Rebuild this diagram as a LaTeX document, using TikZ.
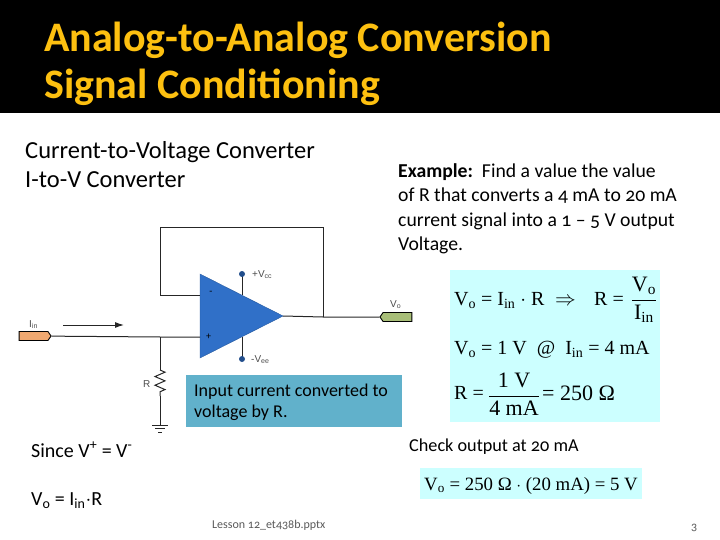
\documentclass[tikz,border=0pt]{standalone}
\usepackage{amsmath}
\usepackage{fontspec}
\usetikzlibrary{shapes.symbols,decorations.pathmorphing,arrows.meta}
\setmainfont[Numbers=OldStyle]{Carlito}
\newfontfamily\fmla{Liberation Serif}
\newfontfamily\labelfont{Liberation Sans}
\definecolor{titlegold}{HTML}{FDC010}
\definecolor{ampblue}{HTML}{3070C8}
\definecolor{notebox}{HTML}{61B1CB}
\definecolor{fmlabox}{HTML}{CCFFFF}
\definecolor{intag}{HTML}{F0A870}
\definecolor{outtag}{HTML}{A8BE78}
\def\Vo{V\textsubscript{o}}
\def\Iin{I\textsubscript{in}}
\def\fracb#1#2{$\displaystyle\frac{\hbox{\fmla #1}}{\hbox{\fmla #2}}$}
\tikzset{
    title/.style={anchor=base west, inner sep=0, text=titlegold, font=\fontsize{42}{42}\selectfont\bfseries},
    body/.style={anchor=base west, inner sep=0, font=\fontsize{24.5}{24.5}\selectfont},
    small/.style={anchor=base west, inner sep=0, font=\fontsize{19.7}{19.7}\selectfont},
    eq/.style={anchor=base west, inner sep=0, font=\fontsize{20}{20}\selectfont\fmla},
    eqmid/.style={anchor=center, inner sep=0, font=\fontsize{22}{22}\selectfont\fmla},
    pin/.style={anchor=base west, inner sep=0, text=black!70, font=\fontsize{10}{10}\selectfont\labelfont},
    tag/.style={draw=black, line width=0.9pt, signal, signal pointer angle=110, minimum height=9pt, minimum width=32pt, inner sep=0},
    wire/.style={line width=1pt, black!85}
}

\begin{document}
\begin{tikzpicture}[x=1pt, y=-1pt]
    \useasboundingbox (0, 0) rectangle (720, 540);
    \fill[black] (0, 0) rectangle (720, 113);
    \node[title] (title1) at (44, 52) {Analog-to-Analog Conversion};
    \node[title] (title2) at (44, 99) {Signal Conditioning};

    \node[body] (head1) at (25, 159) {Current-to-Voltage Converter};
    \node[body] (head2) at (25, 188) {I-to-V Converter};

    \node[small] (ex1) at (398, 178) {\textbf{Example:}\ \ Find a value the value};
    \node[small] (ex2) at (398, 202) {of R that converts a 4 mA to 20 mA};
    \node[small] (ex3) at (398, 226) {current signal into a 1 – 5 V output};
    \node[small] (ex4) at (398, 250) {Voltage.};

    % op amp
    \coordinate (ampa) at (200, 274);
    \coordinate (ampb) at (200, 358);
    \coordinate (tip) at (283, 316);
    \coordinate (minus) at (200, 295);
    \coordinate (plus) at (200, 337);
    \coordinate (junc) at (160, 337);
    \coordinate (fbl) at (160, 295);
    \coordinate (fbtl) at (160, 228);
    \coordinate (fbtr) at (323, 228);
    \coordinate (fbr) at (323, 317);
    \coordinate (rtop) at (160, 370);
    \coordinate (rbot) at (160, 396);
    \coordinate (gnd) at (160, 425);
    \coordinate (arra) at (63, 325);
    \coordinate (arrb) at (124, 325);

    \draw[wire] (242, 274) -- (242, 295);
    \draw[wire] (242, 337) -- (242, 359);
    \fill[ampblue, draw=ampblue!80!black] (ampa) -- (tip) -- (ampb) -- cycle;
    \node[circle, fill=ampblue!70!black, minimum size=6pt, inner sep=0] (vcc) at (242, 274) {};
    \node[circle, fill=ampblue!70!black, minimum size=6pt, inner sep=0] (vee) at (242, 359) {};
    \node[pin] (vcclbl) at (252, 277) {+V\textsubscript{cc}};
    \node[pin] (veelbl) at (251, 362) {-V\textsubscript{ee}};
    \node[anchor=center, inner sep=0] (mn) at (211, 293) {-};
    \node[anchor=center, inner sep=0] (pl) at (208.5, 337) {+};

    \node[tag, fill=intag, signal to=east] (tagin) at (33.5, 336) {};
    \node[tag, fill=outtag, signal to=west] (tagout) at (397.5, 317) {};
    \node[pin] (iinlbl) at (29, 327) {\Iin};
    \node[pin] (vololbl) at (390, 307) {\Vo};
    \node[pin] (rlbl) at (143, 387) {R};

    \draw[wire] (tagin) -- (junc) -- (plus);
    \draw[wire] (minus) -- (fbl) -- (fbtl) -- (fbtr) -- (fbr);
    \draw[wire] (tip) -- (fbr) -- (tagout);
    \draw[wire] (junc) -- (rtop);
    \draw[wire, decorate, decoration={zigzag, amplitude=5pt, segment length=8.7pt}] (rtop) -- (rbot);
    \draw[wire] (rbot) -- (gnd);
    \draw[wire] (152, 425) -- (168, 425);
    \draw[wire] (155, 428.5) -- (165, 428.5);
    \draw[wire] (158, 432) -- (162, 432);
    \draw[-{Latex[length=9pt,width=6pt]}, wire] (arra) -- (arrb);

    % note box
    \fill[notebox] (186, 375) rectangle (402, 427);
    \node[anchor=base west, inner sep=0, font=\fontsize{18}{18}\selectfont] (note1) at (194, 396) {Input current converted to};
    \node[anchor=base west, inner sep=0, font=\fontsize{18}{18}\selectfont] (note2) at (194, 417) {voltage by R.};

    % formulas
    \fill[fmlabox] (450, 270) rectangle (660, 422);
    \node[eq] (eq1) at (454, 305) {\Vo{} = \Iin{} $\cdot$ R};
    \node[eq] (eq1b) at (555, 305) {$\Rightarrow$};
    \node[eq] (eq1c) at (594, 305) {R =};
    \node[eqmid] (frac1) at (644, 300) {\fracb{\Vo}{\Iin}};
    \node[eq] (eq2) at (454, 354) {\Vo{} = 1 V\ \ @\ \ \Iin{} = 4 mA};
    \node[eq] (eq3) at (454, 399) {R =};
    \node[eqmid] (frac2) at (514, 394) {\fracb{1 V}{4 mA}};
    \node[eq, font=\fontsize{22}{22}\selectfont\fmla] (eq3b) at (542, 400) {= 250 Ω};

    \node[small, font=\fontsize{18.2}{18.2}\selectfont] (chk) at (409, 451) {Check output at 20 mA};
    \fill[fmlabox] (420, 468) rectangle (642, 499);
    \node[eq, font=\fontsize{18.8}{18.8}\selectfont\fmla] (eq4) at (424, 490) {\Vo{} = 250 Ω $\cdot$ (20 mA) = 5 V};

    \node[small, font=\fontsize{20}{20}\selectfont] (since) at (31, 457) {Since V\textsuperscript{+} = V\textsuperscript{-}};
    \node[small, font=\fontsize{20}{20}\selectfont] (ohm) at (31, 505) {\Vo{} = \Iin{}$\cdot$R};

    \node[anchor=base west, inner sep=0, text=black!65, font=\fontsize{12}{12}\selectfont] (foot) at (212, 528) {Lesson 12\_et438b.pptx};
    \node[anchor=base west, inner sep=0, text=black!65, font=\fontsize{12}{12}\selectfont] (num) at (691, 530) {3};
\end{tikzpicture}
\end{document}
